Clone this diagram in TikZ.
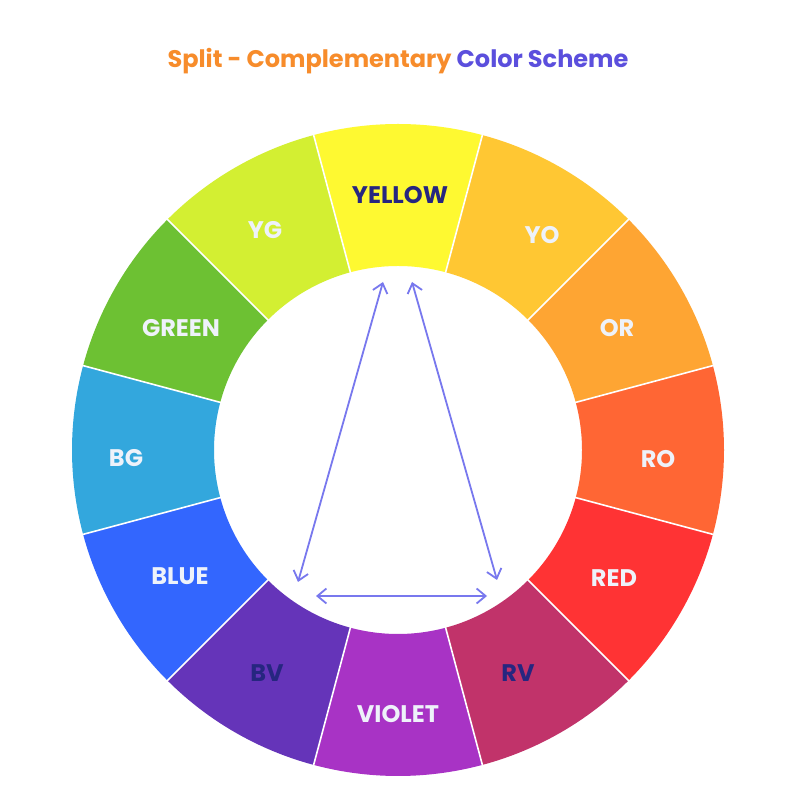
\documentclass[tikz,border=0pt]{standalone}
\usepackage{fontspec}
\setmainfont{Poppins}
\usetikzlibrary{arrows.meta}
\definecolor{cYellow}{HTML}{FEF931}
\definecolor{cYO}{HTML}{FFC733}
\definecolor{cOR}{HTML}{FEA533}
\definecolor{cRO}{HTML}{FF6634}
\definecolor{cRed}{HTML}{FF3334}
\definecolor{cRV}{HTML}{C1336A}
\definecolor{cViolet}{HTML}{A833C5}
\definecolor{cBV}{HTML}{6534B9}
\definecolor{cBlue}{HTML}{3366FE}
\definecolor{cBG}{HTML}{33A7DD}
\definecolor{cGreen}{HTML}{6DC133}
\definecolor{cYG}{HTML}{D3EF32}
\definecolor{darktxt}{HTML}{262680}
\definecolor{lighttxt}{HTML}{EEF2FA}
\definecolor{titleorange}{HTML}{F78C2B}
\definecolor{titlepurple}{HTML}{5B4FDD}
\definecolor{arrowcol}{HTML}{7878EE}
\begin{document}
\begin{tikzpicture}[x=1pt,y=1pt,
  lbl/.style={font=\fontsize{24}{28}\selectfont\bfseries, text=lighttxt, inner sep=0pt},
  dlbl/.style={lbl, text=darktxt},
  conn/.style={draw=arrowcol, line width=1.8pt, {Straight Barb[length=9pt,width=15pt,line width=1.8pt]}-{Straight Barb[length=9pt,width=15pt,line width=1.8pt]}}]
\useasboundingbox[fill=white] (0,0) rectangle (802,802);
\begin{scope}[shift={(398,352)}]
  \foreach \a/\c in {90/cYellow,60/cYO,30/cOR,0/cRO,-30/cRed,-60/cRV,-90/cViolet,-120/cBV,-150/cBlue,-180/cBG,150/cGreen,120/cYG}{
    \pgfmathsetmacro{\aa}{\a-15}
    \pgfmathsetmacro{\ab}{\a+15}
    \fill[\c] (\aa:326) arc[start angle=\aa,end angle=\ab,radius=326] -- (\ab:184) arc[start angle=\ab,end angle=\aa,radius=184] -- cycle;
  }
  \foreach \a in {15,45,...,345}{
    \draw[white, line width=1.6pt] (\a:183) -- (\a:327);
  }
\end{scope}
\node[font=\fontsize{24}{28}\selectfont\bfseries, inner sep=0pt] (title) at (398,741) {\textcolor{titleorange}{Split - Complementary} \textcolor{titlepurple}{Color Scheme}};
\node[dlbl] (yellow) at (400,607) {YELLOW};
\node[lbl] (yg) at (265,572) {YG};
\node[lbl] (yo) at (542,567) {YO};
\node[lbl] (green) at (181,474) {GREEN};
\node[lbl] (or) at (617,474) {OR};
\node[lbl] (bg) at (126,344) {BG};
\node[lbl] (ro) at (658,343) {RO};
\node[lbl] (blue) at (180,226) {BLUE};
\node[lbl] (red) at (614,224) {RED};
\node[dlbl] (bv) at (267,129) {BV};
\node[dlbl] (rv) at (518,129) {RV};
\node[lbl] (violet) at (398,88) {VIOLET};
\coordinate (y1) at (383,520);
\coordinate (v1) at (298,220);
\coordinate (y2) at (412,520);
\coordinate (v2) at (497,222);
\coordinate (h1) at (316,206);
\coordinate (h2) at (487,206);
\draw[conn] (y1) -- (v1);
\draw[conn] (y2) -- (v2);
\draw[conn] (h1) -- (h2);
\end{tikzpicture}
\end{document}
